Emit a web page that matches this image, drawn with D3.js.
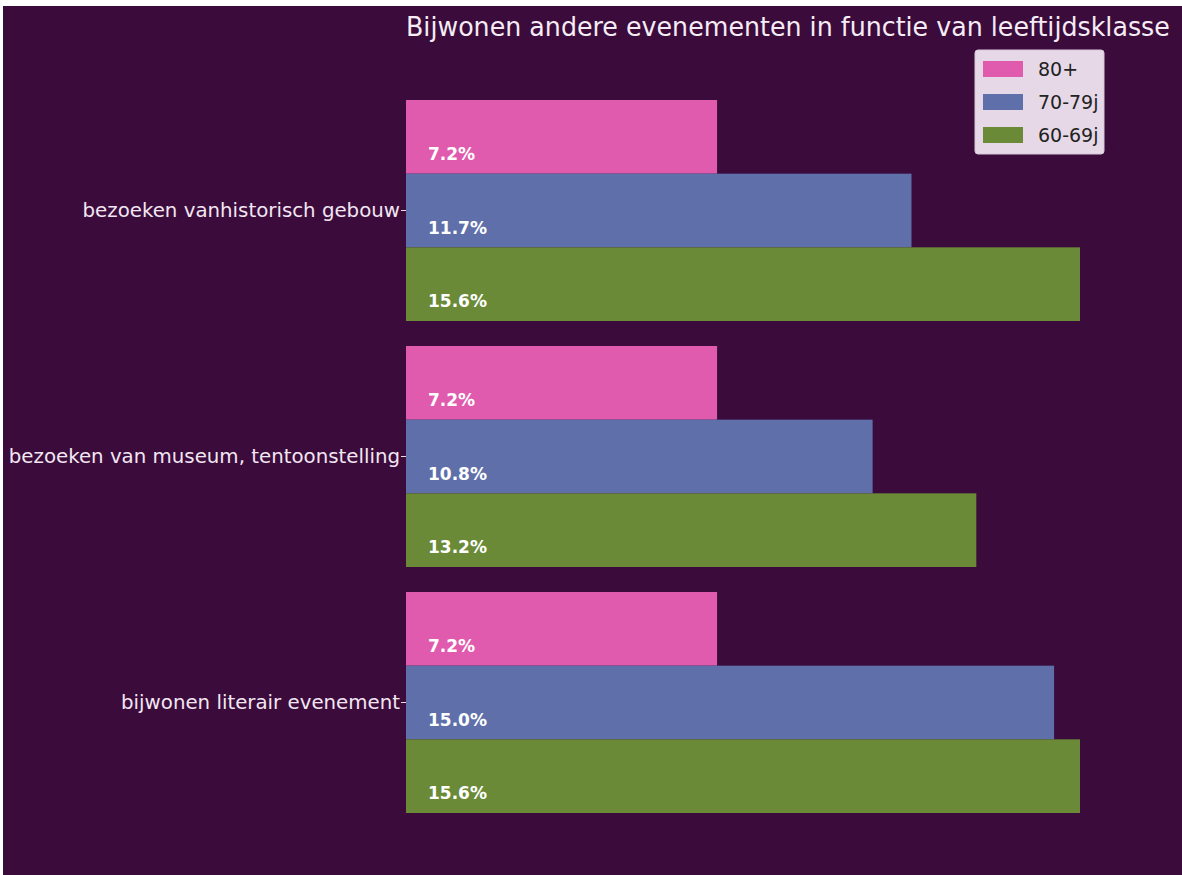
<!DOCTYPE html>
<html>
<head>
<meta charset="utf-8">
<script src="https://cdn.jsdelivr.net/npm/d3@7"></script>
<style>
  html, body { margin: 0; padding: 0; background: #ffffff; }
  svg { display: block; }
  text { font-family: "DejaVu Sans", sans-serif; }
</style>
</head>
<body>
<svg id="chart" width="1182" height="875"></svg>
<script>
// ---- data ----
const categories = [
  "bezoeken vanhistorisch gebouw",
  "bezoeken van museum, tentoonstelling",
  "bijwonen literair evenement"
];
const seriesNames = ["80+", "70-79j", "60-69j"];
const values80 = [7.2, 7.2, 7.2];
const values70 = [11.7, 10.8, 15.0];
const values60 = [15.6, 13.2, 15.6];
const seriesColors = ["#e05aae", "#5f6faa", "#6a8a38"];
const titleText = "Bijwonen andere evenementen in functie van leeftijdsklasse";

const seriesValues = [values80, values70, values60];

// ---- layout ----
const svg = d3.select("#chart");
const W = 1182, H = 875;
const bg = "#3a0b3b";

svg.append("rect").attr("x", 0).attr("y", 0).attr("width", W).attr("height", H).attr("fill", "#ffffff");
svg.append("rect").attr("x", 3).attr("y", 6).attr("width", W - 3).attr("height", H - 6).attr("fill", bg);

const plotLeft = 406, plotTop = 75;
const x = d3.scaleLinear().domain([0, 15.6]).range([plotLeft, 1080]);

const y0 = d3.scaleBand().domain(categories).range([plotTop, plotTop + 246 * 3]).paddingInner(0).paddingOuter(0);
const y1 = d3.scaleBand().domain(seriesNames).range([25, 246]).padding(0);

const rows = [];
categories.forEach((c, ci) => {
  seriesNames.forEach((s, si) => {
    rows.push({ cat: c, series: s, si, value: seriesValues[si][ci] });
  });
});

const g = svg.append("g");

g.selectAll("rect.bar").data(rows).enter().append("rect")
  .attr("class", "bar")
  .attr("x", x(0))
  .attr("y", d => y0(d.cat) + y1(d.series))
  .attr("width", d => x(d.value) - x(0))
  .attr("height", y1.bandwidth())
  .attr("fill", d => seriesColors[d.si]);

g.selectAll("text.val").data(rows).enter().append("text")
  .attr("class", "val")
  .attr("x", x(0) + 22)
  .attr("y", d => y0(d.cat) + y1(d.series) + 60)
  .attr("fill", "#ffffff")
  .attr("font-weight", "bold")
  .attr("font-size", 17)
  .text(d => d.value.toFixed(1) + "%");

// y axis (category labels + small ticks)
const yAxisG = svg.append("g")
  .attr("transform", `translate(${plotLeft},0)`);
const labelY = c => y0(c) + y1("70-79j") + y1.bandwidth() / 2;
yAxisG.selectAll("line.tick").data(categories).enter().append("line")
  .attr("x1", -5).attr("x2", 0)
  .attr("y1", labelY).attr("y2", labelY)
  .attr("stroke", "#e8d8e8").attr("stroke-width", 1);
yAxisG.selectAll("text.cat").data(categories).enter().append("text")
  .attr("class", "cat")
  .attr("x", -6)
  .attr("y", labelY)
  .attr("dy", "0.35em")
  .attr("text-anchor", "end")
  .attr("font-size", 19.8)
  .attr("fill", "#f3e6f3")
  .text(d => d);

// title: horizontally condensed to fit width 764 like the reference
const title = svg.append("text")
  .attr("x", 0)
  .attr("y", 0)
  .attr("font-size", 26)
  .attr("fill", "#f5ecf5")
  .text(titleText);
const natural = title.node().getComputedTextLength();
const sx = Math.min(1, 764 / natural);
title.attr("transform", `translate(406,36) scale(${sx},1)`);

// legend
const lg = svg.append("g").attr("transform", "translate(975,50)");
lg.append("rect").attr("width", 129).attr("height", 104).attr("rx", 3)
  .attr("fill", "#e6d8e6").attr("stroke", "#d8c8d8");
seriesNames.forEach((s, i) => {
  const cy = 19 + i * 33;
  lg.append("rect").attr("x", 8).attr("y", cy - 8).attr("width", 40).attr("height", 16)
    .attr("fill", seriesColors[i]);
  lg.append("text").attr("x", 63).attr("y", cy).attr("dy", "0.35em")
    .attr("font-size", 19).attr("fill", "#222222").text(s);
});
</script>
</body>
</html>
